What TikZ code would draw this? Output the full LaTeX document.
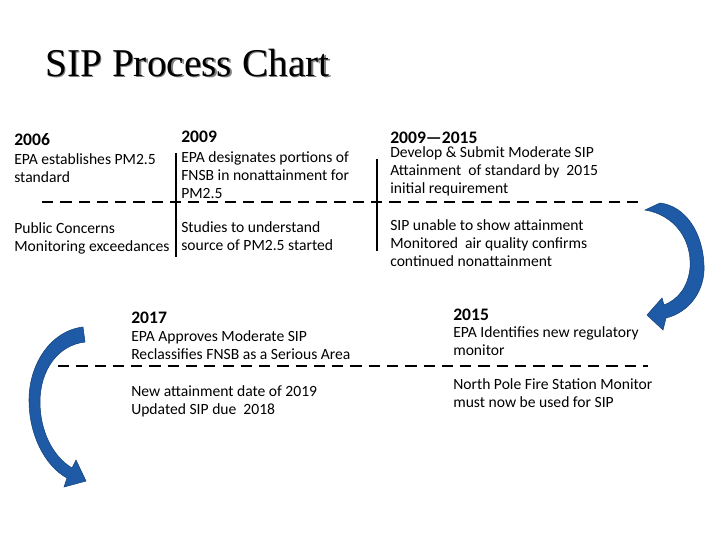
\documentclass[tikz,border=0pt]{standalone}
\usepackage{fontspec}
\setmainfont{Carlito}
\newfontfamily\titlefont{Liberation Serif}
\usetikzlibrary{positioning}

\definecolor{arrowblue}{RGB}{30,90,165}

\begin{document}
\begin{tikzpicture}[x=0.025cm, y=-0.025cm,
  year/.style={anchor=base west, inner sep=0pt, font=\bfseries\fontsize{12.5}{14}\selectfont},
  txt/.style={anchor=base west, inner sep=0pt, align=left, font=\fontsize{11.1}{12.5}\selectfont},
  sep/.style={line width=2pt, dash pattern=on 8pt off 5pt},
  bar/.style={line width=1.6pt},
  bluearrow/.style={fill=arrowblue, draw=arrowblue!75!black, line width=0.4pt}]

\useasboundingbox (0,0) rectangle (720,540);

%title, with its grey shadow
\node[anchor=base west, inner sep=0pt, text=gray, font=\titlefont\fontsize{28}{30}\selectfont] (shadow) at (46.5,77.5) {SIP Process Chart};
\node[anchor=base west, inner sep=0pt, font=\titlefont\fontsize{28}{30}\selectfont] (title) at (45,76) {SIP Process Chart};

%upper time line
\draw[sep] (42,202) -- (638,202);
\draw[bar] (176,153) -- (176,257);
\draw[bar] (377,159) -- (377,251);

%(txt nodes sit on the baseline of their last line)
\node[year] (y2006) at (14,145) {2006};
\node[txt] (estab) at (14,182) {EPA establishes PM2.5\\standard};
\node[txt] (concern) at (14,251) {Public Concerns\\Monitoring exceedances};

\node[year] (y2009) at (181,142) {2009};
\node[txt] (design) at (181,198) {EPA designates portions of\\FNSB in nonattainment for\\PM2.5};
\node[txt] (study) at (181,250) {Studies to understand\\source of PM2.5 started};

\node[year] (y0915) at (390,143) {2009---2015};
\node[txt] (develop) at (390,193) {Develop \& Submit Moderate SIP\\Attainment\ \ of standard by\ \ 2015\\initial requirement};
\node[txt] (unable) at (390,266) {SIP unable to show attainment\\Monitored\ \ air quality confirms\\continued nonattainment};

%lower time line
\draw[sep] (58,366) -- (648,366);

\node[year] (y2017) at (131,323) {2017};
\node[txt] (approve) at (131,359) {EPA Approves Moderate SIP\\Reclassifies FNSB as a Serious Area};
\node[txt] (newdate) at (131,414) {New attainment date of 2019\\Updated SIP due\ \ 2018};

\node[year] (y2015) at (453,320) {2015};
\node[txt] (identify) at (453,355) {EPA Identifies new regulatory\\monitor};
\node[txt] (pole) at (453,407) {North Pole Fire Station Monitor\\must now be used for SIP};

%curved arrows
\filldraw[bluearrow] (645,210) .. controls (675,215) and (692,240) .. (690,268)
  .. controls (688,288) and (677,300) .. (664,305)
  -- (662,298) -- (647,315) -- (663,330) -- (666,318)
  .. controls (690,312) and (705,290) .. (704,266)
  .. controls (703,232) and (685,206) .. (660,203) -- cycle;

\filldraw[bluearrow] (83,327) .. controls (50,331) and (29,365) .. (29,400)
  .. controls (29,435) and (45,466) .. (67,478)
  -- (64,487) -- (86,481) -- (76,460) -- (72,468)
  .. controls (52,456) and (40,430) .. (40,402)
  .. controls (40,370) and (58,345) .. (85,342) -- cycle;

\end{tikzpicture}
\end{document}
